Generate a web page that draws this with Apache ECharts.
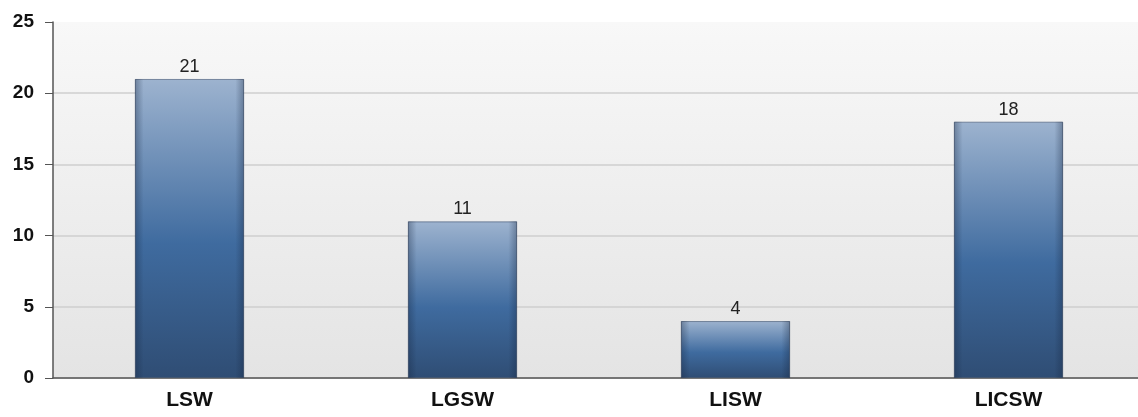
<!DOCTYPE html>
<html>
<head>
<meta charset="utf-8">
<script src="https://cdn.jsdelivr.net/npm/echarts@6/dist/echarts.min.js"></script>
<style>
  html,body{margin:0;padding:0;background:#fff;overflow:hidden}
  #chart{width:1145px;height:417px}
</style>
</head>
<body>
<div id="chart"></div>
<script>
var categories = ['LSW', 'LGSW', 'LISW', 'LICSW']
var counts = [21, 11, 4, 18]
var yTicks = [0, 5, 10, 15, 20, 25]

var chart = echarts.init(document.getElementById('chart'))

var option = {
  backgroundColor: '#fff',
  animation: false,
  grid: {
    left: 53,
    top: 22,
    bottom: 39,
    right: 0,
    show: true,
    borderWidth: 0,
    backgroundColor: new echarts.graphic.LinearGradient(0, 0, 0, 1, [
      {offset: 0, color: '#f8f8f8'},
      {offset: 1, color: '#e4e4e4'}
    ])
  },
  xAxis: {
    type: 'category',
    data: categories,
    axisLine: {lineStyle: {color: '#555', width: 1.5}},
    axisTick: {alignWithLabel: true, length: 6, lineStyle: {color: '#666'}},
    axisLabel: {
      color: '#111',
      fontFamily: 'Liberation Sans, Arial, sans-serif',
      fontWeight: 'bold',
      fontSize: 21,
      margin: 12
    }
  },
  yAxis: {
    type: 'value',
    min: yTicks[0],
    max: yTicks[yTicks.length - 1],
    interval: 5,
    axisLine: {show: true, lineStyle: {color: '#555', width: 1.5}},
    axisTick: {show: true, length: 8, lineStyle: {color: '#555'}},
    axisLabel: {
      color: '#111',
      fontFamily: 'Liberation Sans, Arial, sans-serif',
      fontWeight: 'bold',
      fontSize: 19,
      margin: 19
    },
    splitLine: {
      lineStyle: {color: ['#cfcfcf', '#cfcfcf', '#cfcfcf', '#cfcfcf', '#cfcfcf', 'rgba(0,0,0,0)'], width: 1.5}
    }
  },
  series: [{
    type: 'bar',
    data: counts,
    barWidth: '40%',
    itemStyle: {
      color: new echarts.graphic.LinearGradient(0, 0, 0, 1, [
        {offset: 0, color: '#9db3cf'},
        {offset: 0.55, color: '#3f6b9f'},
        {offset: 1, color: '#2f4d74'}
      ]),
      borderColor: 'rgba(60,80,110,0.6)',
      borderWidth: 1
    },
    label: {
      show: true,
      position: 'top',
      distance: 3,
      color: '#222',
      fontFamily: 'Liberation Sans, Arial, sans-serif',
      fontSize: 18
    }
  }, {
    // dark bevel on the bar sides
    type: 'bar',
    data: counts,
    barWidth: '40%',
    barGap: '-100%',
    silent: true,
    itemStyle: {
      color: new echarts.graphic.LinearGradient(0, 0, 1, 0, [
        {offset: 0, color: 'rgba(20,35,60,0.35)'},
        {offset: 0.08, color: 'rgba(20,35,60,0)'},
        {offset: 0.92, color: 'rgba(20,35,60,0)'},
        {offset: 1, color: 'rgba(20,35,60,0.35)'}
      ])
    }
  }]
}

chart.setOption(option)
window.onresize = function(){
  chart.resize()
}
</script>
</body>
</html>
